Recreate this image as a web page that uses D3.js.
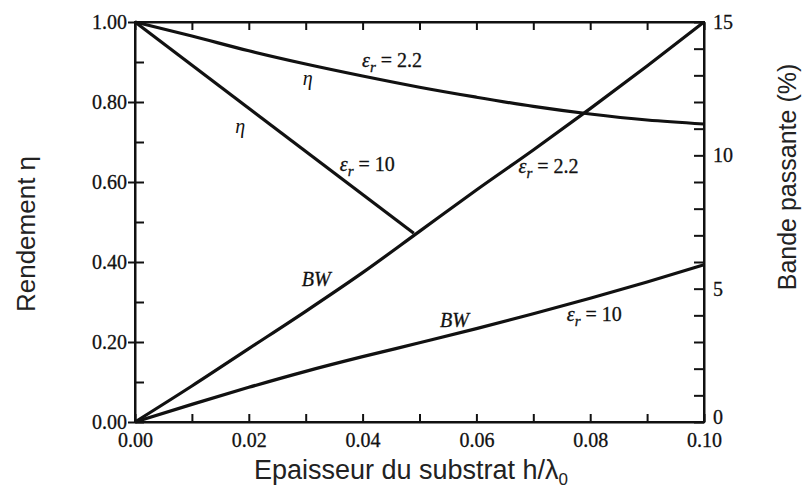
<!DOCTYPE html>
<html>
<head>
<meta charset="utf-8">
<script src="https://cdn.jsdelivr.net/npm/d3@7"></script>
<style>
  html, body { margin: 0; padding: 0; background: #fff; }
  svg { display: block; }
</style>
</head>
<body>
<svg id="chart" width="804" height="492"></svg>
<script>
// ---- data ----
const hValues = [0, 0.01, 0.02, 0.03, 0.04, 0.05, 0.06, 0.07, 0.08, 0.09, 0.10];
const etaEr22 = [1.0, 0.965, 0.928, 0.895, 0.865, 0.837, 0.812, 0.789, 0.770, 0.755, 0.745];
const etaEr10H = [0, 0.049];
const etaEr10 = [1.0, 0.472];
const bwEr22 = [0, 1.35, 2.75, 4.15, 5.6, 7.15, 8.7, 10.2, 11.75, 13.35, 15.0];
const bwEr10 = [0, 0.66, 1.3, 1.9, 2.45, 2.97, 3.5, 4.06, 4.64, 5.25, 5.9];

const xTickValues = [0, 0.01, 0.02, 0.03, 0.04, 0.05, 0.06, 0.07, 0.08, 0.09, 0.10];
const xTickLabels = ["0.00", "", "0.02", "", "0.04", "", "0.06", "", "0.08", "", "0.10"];
const yLeftTickValues = [0, 0.1, 0.2, 0.3, 0.4, 0.5, 0.6, 0.7, 0.8, 0.9, 1.0];
const yLeftTickLabels = ["0.00", "", "0.20", "", "0.40", "", "0.60", "", "0.80", "", "1.00"];
const yRightTickValues = d3.range(0, 16, 1);
const yRightLabelled = [0, 5, 10, 15];

const xTitle = "Epaisseur du substrat h/λ";
const yLeftTitle = "Rendement η";
const yRightTitle = "Bande passante (%)";

// annotations: kind, h, eta-equivalent value, text
const annotations = [
  {kind: "er", h: 0.0399, v: 0.8875, text: "2.2"},
  {kind: "eta", h: 0.0295, v: 0.8425},
  {kind: "eta", h: 0.0176, v: 0.7225},
  {kind: "er", h: 0.0360, v: 0.6275, text: "10"},
  {kind: "er", h: 0.0674, v: 0.6225, text: "2.2"},
  {kind: "bw", h: 0.0293, v: 0.34},
  {kind: "bw", h: 0.0536, v: 0.2375},
  {kind: "er", h: 0.0759, v: 0.2525, text: "10"}
];

// ---- layout ----
const svg = d3.select("#chart");
const mLeft = 135, mRight = 704, mTop = 22, mBottom = 422;
const x = d3.scaleLinear().domain([0, 0.1]).range([mLeft, mRight]);
const yL = d3.scaleLinear().domain([0, 1]).range([mBottom, mTop]);
const yR = d3.scaleLinear().domain([0, 15]).range([mBottom, mTop]);

const serif = "'Liberation Serif', 'Times New Roman', serif";
const sans = "'Liberation Sans', Arial, sans-serif";

// frame
svg.append("rect").attr("x", mLeft).attr("y", mTop)
  .attr("width", mRight - mLeft).attr("height", mBottom - mTop)
  .attr("fill", "none").attr("stroke", "#111").attr("stroke-width", 2);

// bottom axis
const xAxisB = d3.axisBottom(x).tickValues(xTickValues).tickSizeInner(-8).tickSizeOuter(0)
  .tickFormat((d, i) => xTickLabels[i]).tickPadding(11);
const gxb = svg.append("g").attr("transform", `translate(0,${mBottom})`).call(xAxisB);
// top axis
const xAxisT = d3.axisTop(x).tickValues(xTickValues).tickSizeInner(-8).tickSizeOuter(0)
  .tickFormat("");
const gxt = svg.append("g").attr("transform", `translate(0,${mTop})`).call(xAxisT);

// left axis
const yAxisL = d3.axisLeft(yL).tickValues(yLeftTickValues).tickSizeInner(-9).tickSizeOuter(0)
  .tickFormat((d, i) => yLeftTickLabels[i]).tickPadding(8);
const gyl = svg.append("g").attr("transform", `translate(${mLeft},0)`).call(yAxisL);
gyl.selectAll(".tick").filter((d, i) => yLeftTickLabels[i] !== "")
  .select("line").attr("x1", -7);

// right axis
const yAxisR = d3.axisRight(yR).tickValues(yRightTickValues).tickSizeInner(-10).tickSizeOuter(0)
  .tickFormat(d => yRightLabelled.includes(d) ? String(d) : "").tickPadding(9);
const gyr = svg.append("g").attr("transform", `translate(${mRight},0)`).call(yAxisR);
gyr.selectAll(".tick").filter(d => d === 0).select("text").attr("dy", "0.05em");

[gxb, gxt, gyl, gyr].forEach(g => {
  g.select(".domain").attr("stroke", "#111").attr("stroke-width", 2);
  g.selectAll(".tick line").attr("stroke", "#111").attr("stroke-width", 2);
  g.selectAll(".tick text").attr("fill", "#111").attr("font-family", serif)
    .attr("font-size", 20).attr("stroke", "#111").attr("stroke-width", 0.3);
});

// curves
const lineL = d3.line().x(d => x(d[0])).y(d => yL(d[1])).curve(d3.curveMonotoneX);
const lineR = d3.line().x(d => x(d[0])).y(d => yR(d[1])).curve(d3.curveMonotoneX);
const series = [
  {pts: d3.zip(hValues, etaEr22), line: lineL},
  {pts: d3.zip(etaEr10H, etaEr10), line: lineL},
  {pts: d3.zip(hValues, bwEr22), line: lineR},
  {pts: d3.zip(hValues, bwEr10), line: lineR}
];
svg.append("g").selectAll("path").data(series).join("path")
  .attr("d", s => s.line(s.pts))
  .attr("fill", "none").attr("stroke", "#111").attr("stroke-width", 3.2)
  .attr("stroke-linejoin", "round");

// annotations
const ann = svg.append("g").attr("font-family", serif).attr("font-size", 20).attr("fill", "#111");
annotations.forEach(a => {
  const t = ann.append("text").attr("x", x(a.h)).attr("y", yL(a.v))
    .attr("stroke", "#111").attr("stroke-width", 0.3);
  if (a.kind === "er") {
    t.append("tspan").attr("font-style", "italic").text("ε");
    t.append("tspan").attr("font-style", "italic").attr("font-size", 15).attr("dy", 5).text("r");
    t.append("tspan").attr("dy", -5).text(" = " + a.text);
  } else if (a.kind === "eta") {
    t.attr("font-style", "italic").attr("stroke-width", 0).text("η");
  } else {
    t.attr("font-style", "italic").text("BW");
  }
});

// axis titles
svg.append("text").attr("x", 411).attr("y", 479)
  .attr("text-anchor", "middle").attr("font-family", sans).attr("font-size", 27).attr("fill", "#222")
  .call(t => {
    t.append("tspan").text(xTitle);
    t.append("tspan").attr("font-size", 17).attr("dy", 6).text("0");
  });
svg.append("text").attr("transform", `translate(35,${234}) rotate(-90)`)
  .attr("text-anchor", "middle").attr("font-family", sans).attr("font-size", 26).attr("fill", "#222")
  .text(yLeftTitle);
svg.append("text").attr("transform", `translate(796,${177}) rotate(-90)`)
  .attr("text-anchor", "middle").attr("font-family", sans).attr("font-size", 25).attr("fill", "#222")
  .text(yRightTitle);
</script>
</body>
</html>
